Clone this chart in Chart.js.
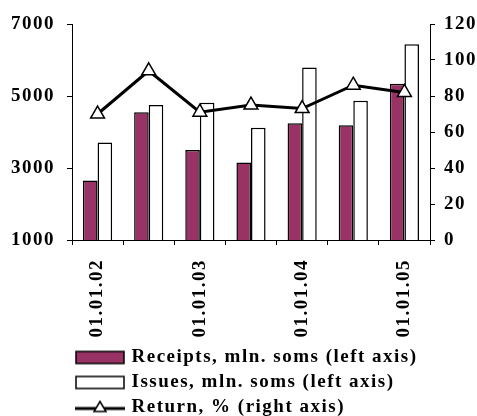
<!DOCTYPE html>
<html>
<head>
<meta charset="utf-8">
<script src="https://cdn.jsdelivr.net/npm/chart.js@4"></script>
<style>
  html, body { margin: 0; padding: 0; background: #fff; }
  #wrap { width: 477px; height: 416px; }
</style>
</head>
<body>
<div id="wrap"><canvas id="chart" width="477" height="416"></canvas></div>
<script>
const dates = ['01.01.02', '01.07.02', '01.01.03', '01.07.03', '01.01.04', '01.07.04', '01.01.05'];
const receipts = [2650, 4550, 3500, 3150, 4240, 4190, 5340];
const issues = [3710, 4750, 4810, 4120, 5790, 4870, 6440];
const returnPct = [70, 94, 71, 75, 73, 86, 82];

const PURPLE = '#993366';
const FONT = 'Liberation Serif';

// legend swatches drawn into small canvases
function swatch(kind) {
  const c = document.createElement('canvas');
  c.width = 50; c.height = 16;
  const g = c.getContext('2d');
  if (kind === 'line') {
    g.strokeStyle = '#000'; g.lineWidth = 3;
    g.beginPath(); g.moveTo(0, 9); g.lineTo(50, 9); g.stroke();
    g.fillStyle = '#fff'; g.lineWidth = 1.5;
    g.beginPath(); g.moveTo(25, 2); g.lineTo(31, 12); g.lineTo(19, 12); g.closePath();
    g.fill(); g.stroke();
  } else {
    g.fillStyle = kind === 'bar1' ? PURPLE : '#fff';
    g.strokeStyle = '#000'; g.lineWidth = 1.5;
    g.fillRect(1, 2, 48, 12); g.strokeRect(1, 2, 48, 12);
  }
  return c;
}
const swatches = [swatch('bar1'), swatch('bar2'), swatch('line')];

// the original text is set rather wide
const spacing = {
  id: 'spacing',
  beforeInit: chart => { chart.ctx.letterSpacing = '1.5px'; },
  beforeUpdate: chart => { chart.ctx.letterSpacing = '1.5px'; },
  beforeDraw: chart => { chart.ctx.letterSpacing = '1.5px'; }
};

const tickFont = { family: FONT, size: 19, weight: 'bold' };

new Chart(document.getElementById('chart'), {
  type: 'bar',
  data: {
    labels: dates,
    datasets: [
      {
        label: 'Receipts, mln. soms (left axis)',
        data: receipts, yAxisID: 'y', order: 2,
        backgroundColor: PURPLE, borderColor: '#000', borderWidth: 1.5,
        barPercentage: 1, categoryPercentage: 0.57
      },
      {
        label: 'Issues, mln. soms (left axis)',
        data: issues, yAxisID: 'y', order: 2,
        backgroundColor: '#fff', borderColor: '#000', borderWidth: 1.5,
        barPercentage: 1, categoryPercentage: 0.57
      },
      {
        type: 'line',
        label: 'Return, % (right axis)',
        data: returnPct, yAxisID: 'y1', order: 0,
        borderColor: '#000', borderWidth: 3, tension: 0,
        pointStyle: 'triangle', pointRadius: 8, pointBorderWidth: 1.5,
        pointBackgroundColor: '#fff', pointBorderColor: '#000'
      }
    ]
  },
  options: {
    responsive: false, animation: false,
    layout: { padding: { top: 24, bottom: -11, left: 0, right: 0 } },
    scales: {
      x: {
        grid: { drawOnChartArea: false, color: '#000', tickLength: 5, offset: true },
        border: { color: '#000', width: 1 },
        ticks: {
          color: '#000', autoSkip: false, minRotation: 90, maxRotation: 90, padding: 14,
          font: tickFont,
          callback: (v, i) => i % 2 === 0 ? dates[i] : ''
        },
        afterFit: s => { s.height = 102; }
      },
      y: {
        position: 'left', min: 1000, max: 7000,
        grid: { drawOnChartArea: false, color: '#000', tickLength: 5 },
        border: { color: '#000', width: 1 },
        ticks: { stepSize: 2000, color: '#000', padding: 12, font: tickFont, callback: v => String(v) },
        afterFit: s => { s.width = 72; }
      },
      y1: {
        position: 'right', min: 0, max: 120,
        grid: { drawOnChartArea: false, color: '#000', tickLength: 5 },
        border: { color: '#000', width: 1 },
        ticks: { stepSize: 20, color: '#000', padding: 9, font: tickFont, callback: v => String(v) },
        afterFit: s => { s.width = 47; }
      }
    },
    plugins: {
      tooltip: { enabled: false },
      legend: {
        position: 'bottom', align: 'start', fullSize: false,
        labels: {
          color: '#000', usePointStyle: true, pointStyleWidth: 44, padding: 6,
          font: { family: FONT, size: 19, weight: 'bold' },
          generateLabels: chart => chart.data.datasets.map((d, i) => ({
            text: d.label, datasetIndex: i, pointStyle: swatches[i],
            fillStyle: '#fff', strokeStyle: '#000', lineWidth: 0, fontColor: '#000'
          }))
        }
      }
    }
  },
  plugins: [spacing]
});
</script>
</body>
</html>
